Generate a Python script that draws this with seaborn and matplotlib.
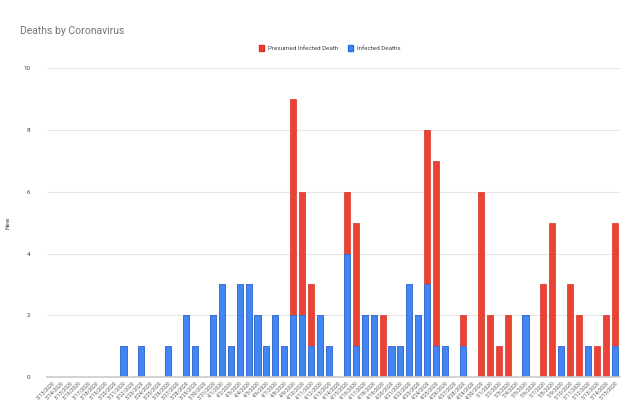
import datetime as dt

import matplotlib
matplotlib.use("Agg")
from matplotlib import pyplot as plt
from matplotlib.patches import Patch
import pandas as pd
import seaborn as sns

# daily values, 3/13/2020 .. 5/15/2020
start = dt.date(2020, 3, 13)
dates = [start + dt.timedelta(days=i) for i in range(64)]
date_labels = [f"{d.month}/{d.day}/{d.year}" for d in dates]

infected_deaths = [
    0, 0, 0, 0, 0, 0, 0, 0, 1, 0, 1, 0, 0, 1, 0, 2, 1, 0, 2,   # March
    3, 1, 3, 3, 2, 1, 2, 1, 2, 2, 1, 2, 1, 0, 4, 1, 2, 2, 0, 1,  # April 1-20
    1, 3, 2, 3, 1, 1, 0, 1, 0, 0,                                # April 21-30
    0, 0, 0, 0, 2, 0, 0, 0, 1, 0, 0, 1, 0, 0, 1,                 # May
]
presumed_deaths = [
    0, 0, 0, 0, 0, 0, 0, 0, 0, 0, 0, 0, 0, 0, 0, 0, 0, 0, 0,
    0, 0, 0, 0, 0, 0, 0, 0, 7, 4, 2, 0, 0, 0, 2, 4, 0, 0, 2, 0,
    0, 0, 0, 5, 6, 0, 0, 1, 0, 6,
    2, 1, 2, 0, 0, 0, 3, 5, 0, 3, 2, 0, 1, 2, 4,
]

RED = "#EA4335"
BLUE = "#4285F4"

df = pd.DataFrame({
    "date": date_labels,
    "infected": infected_deaths,
    "presumed": presumed_deaths,
})
df["total"] = df["infected"] + df["presumed"]

sns.set_style("white")
plt.rcParams["font.family"] = ["Roboto", "DejaVu Sans"]

fig = plt.figure(figsize=(6.4, 4.2), dpi=100)
ax = fig.add_axes([0.073, 0.102, 0.896, 0.736])

# stacked bars: total in red, infected in blue drawn over the bottom part
sns.barplot(data=df, x="date", y="total", color=RED, saturation=1, width=0.68,
            edgecolor="#D93025", linewidth=0.5, ax=ax)
sns.barplot(data=df, x="date", y="infected", color=BLUE, saturation=1, width=0.68,
            edgecolor="#1A73E8", linewidth=0.5, ax=ax)

ax.set_ylim(0, 10)
ax.set_yticks([0, 2, 4, 6, 8, 10])
ax.set_xlim(-0.6, len(dates) - 0.4)
ax.yaxis.grid(True, color="#E6E6E6", linewidth=0.8)
ax.set_axisbelow(True)
for side in ["top", "right", "left"]:
    ax.spines[side].set_visible(False)
ax.spines["bottom"].set_color("#CCCCCC")
ax.spines["bottom"].set_linewidth(1.2)

ax.tick_params(axis="y", length=0, labelsize=4.5, labelcolor="#444444", pad=12)
ax.tick_params(axis="x", length=0, labelsize=3.6, labelcolor="#555555", pad=2)
plt.setp(ax.get_xticklabels(), rotation=45, ha="right", rotation_mode="anchor")

ax.set_xlabel("")
ax.set_ylabel("New", fontsize=4.5, color="#444444", labelpad=9)

fig.text(0.031, 0.92, "Deaths by Coronavirus", fontsize=7.5, color="#757575")

handles = [Patch(facecolor=RED, edgecolor="#D93025"),
           Patch(facecolor=BLUE, edgecolor="#1A73E8")]
fig.legend(handles, ["Presumed Infected Death", "Infected Deaths"],
           loc="center", bbox_to_anchor=(0.515, 0.885), ncol=2, frameon=False,
           fontsize=4.5, handlelength=0.9, handleheight=0.9, handletextpad=0.6,
           columnspacing=1.5, labelcolor="#444444")

fig.savefig("out.png", dpi=100)
